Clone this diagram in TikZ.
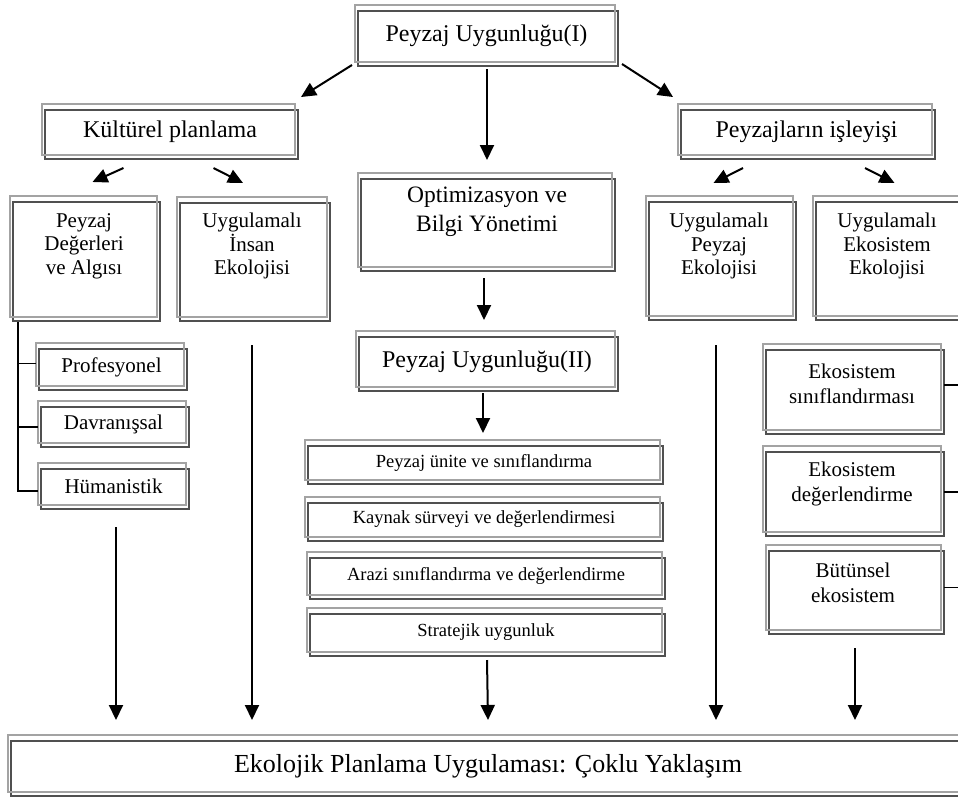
\documentclass[tikz,border=0pt]{standalone}
\usepackage{fontspec}
\setmainfont{Liberation Serif}
\usetikzlibrary{arrows.meta,calc}

\definecolor{liteframe}{HTML}{A3A3A3}
\definecolor{darkframe}{HTML}{505050}

% font sizes used in the chart
\newcommand\hdfont{\fontsize{24}{28}\selectfont}
\newcommand\optfont{\fontsize{23.5}{29}\selectfont}
\newcommand\midfont{\fontsize{21}{23.5}\selectfont}
\newcommand\rfont{\fontsize{21}{25}\selectfont}
\newcommand\smfont{\fontsize{18.5}{22}\selectfont}
\newcommand\btfont{\fontsize{26}{30}\selectfont}

\tikzset{
  litebox/.style={draw=liteframe, line width=1.8pt, rectangle, inner sep=0pt, outer sep=0pt},
  darkrim/.style={draw=darkframe, line width=2.4pt},
  boxtext/.style={align=center, inner sep=0pt, text=black},
  link/.style={line width=2pt, -{Triangle[length=15pt,width=14pt]}},
  branch/.style={line width=1.8pt},
}

% double-rimmed box: light frame with a darker frame offset below right,
% and a one-line caption centred in the pair of frames
% #1 caption options, #2 name, #3 x0, #4 y0, #5 x1, #6 y1, #7 caption
\newcommand{\twinbox}[7][]{%
  \draw[darkrim] (#3+3,#4+6) rectangle (#5+3,#6+4);
  \node[litebox, minimum width={#5-#3}, minimum height={#6-#4}] (#2)
    at ({(#3+#5)/2},{(#4+#6)/2}) {};
  \node[boxtext, #1] (#2-t) at ({(#3+#5)/2+1.5},{(#4+#6)/2+2.5}) {#7};
}

\begin{document}
\begin{tikzpicture}[x=1pt,y=-1pt]
\fill[white] (0,0) rectangle (958,796);
\useasboundingbox (0,0) rectangle (958,796);

% upper levels
\twinbox[font=\hdfont]{top}{355}{5}{615}{62}{Peyzaj Uygunluğu(I)}
\twinbox[font=\hdfont]{kult}{42}{104}{295}{155}{Kültürel planlama}
\twinbox[font=\hdfont]{proc}{678}{104}{932}{155}{Peyzajların işleyişi}

\twinbox{opt}{358}{173}{612}{267}{}
\node[boxtext, font=\optfont] (opt-l) at (487,212) {Optimizasyon ve\\Bilgi Yönetimi};

\twinbox{pda}{10}{196}{157}{317}{}
\node[boxtext, font=\midfont] (pda-l) at (84,246) {Peyzaj\\Değerleri\\ve Algısı};
\twinbox{uie}{177}{197}{327}{317}{}
\node[boxtext, font=\midfont] (uie-l) at (252,246) {Uygulamalı\\İnsan\\Ekolojisi};
\twinbox{upe}{646}{196}{793}{316}{}
\node[boxtext, font=\midfont] (upe-l) at (719,246) {Uygulamalı\\Peyzaj\\Ekolojisi};
\twinbox{uee}{813}{196}{960}{316}{}
\node[boxtext, font=\midfont] (uee-l) at (887,246) {Uygulamalı\\Ekosistem\\Ekolojisi};

\twinbox[font=\hdfont]{pu2}{356}{331}{615}{387}{Peyzaj Uygunluğu(II)}

% left list
\twinbox[font=\midfont]{prof}{36}{343}{184}{386}{Profesyonel}
\twinbox[font=\midfont]{davr}{38}{401}{186}{443}{Davranışsal}
\twinbox[font=\midfont]{hum}{38}{463}{186}{505}{Hümanistik}

% middle list
\twinbox[font=\smfont]{unit}{305}{440}{660}{480}{Peyzaj ünite ve sınıflandırma}
\twinbox[font=\smfont]{kayn}{305}{497}{660}{537}{Kaynak sürveyi ve değerlendirmesi}
\twinbox[font=\smfont]{araz}{307}{552}{662}{595}{Arazi sınıflandırma ve değerlendirme}
\twinbox[font=\smfont]{strat}{307}{608}{662}{652}{Stratejik uygunluk}

% right list
\twinbox{eks}{763}{344}{941}{430}{}
\node[boxtext, font=\rfont] (eks-l) at (852,384) {Ekosistem\\sınıflandırması};
\twinbox{ekd}{763}{446}{941}{532}{}
\node[boxtext, font=\rfont] (ekd-l) at (852,484) {Ekosistem\\değerlendirme};
\twinbox{bute}{766}{545}{941}{630}{}
\node[boxtext, font=\rfont] (bute-l) at (853,583) {Bütünsel\\ekosistem};

% bottom bar
\twinbox[font=\btfont]{base}{8}{735}{965}{792}{Ekolojik Planlama Uygulaması: Çoklu Yaklaşım}

% arrows from the top box
\draw[link] ([shift={(-3,3)}]top.south west) -- ([shift={(6,-7)}]kult.north east);
\draw[link] ([shift={(7,2)}]top.south east) -- ([shift={(-5,-7)}]proc.north west);
\draw[link] ([shift={(2,7)}]top.south) -- ([shift={(2,-13)}]opt.north);

% second level splits
\draw[link] ([shift={(-45,13)}]kult.south) -- ([shift={(9,-14)}]pda.north);
\draw[link] ([shift={(45,13)}]kult.south) -- ([shift={(-9,-14)}]uie.north);
\draw[link] ([shift={(-62,13)}]proc.south) -- ([shift={(-6,-13)}]upe.north);
\draw[link] ([shift={(60,13)}]proc.south) -- ([shift={(8,-13)}]uee.north);

% middle column
\draw[link] ([shift={(-1,11)}]opt.south) -- ([shift={(-1.5,-11)}]pu2.north);
\draw[link] ([shift={(-2.5,6)}]pu2.south) -- ([shift={(0.5,-7)}]unit.north);

% arrows into the bottom bar
\draw[link] ([shift={(4,22)}]hum.south) -- ([shift={(108,-15)}]base.north west);
\draw[link] ([shift={(0,28)}]uie.south) -- ([shift={(244,-15)}]base.north west);
\draw[link] ([shift={(2.5,8)}]strat.south) -- ([shift={(480,-15)}]base.north west);
\draw[link] ([shift={(-3.5,29)}]upe.south) -- ([shift={(708,-15)}]base.north west);
\draw[link] ([shift={(1.5,18)}]bute.south) -- ([shift={(847,-15)}]base.north west);

% left bracket
\coordinate (lt) at ([shift={(8,5)}]pda.south west);
\coordinate (b1) at ([shift={(0,-1)}]prof.west);
\coordinate (b2) at ([shift={(0,5)}]davr.west);
\coordinate (b3) at ([shift={(0,7)}]hum.west);
\draw[branch] (lt) |- (b3);
\draw[branch] (lt |- b1) -- (b1);
\draw[branch] (lt |- b2) -- (b2);

% right bracket ticks
\coordinate (rt) at (960,0);
\coordinate (r1) at ([shift={(3,-2)}]eks.east);
\coordinate (r2) at ([shift={(3,3)}]ekd.east);
\coordinate (r3) at ([shift={(3,0)}]bute.east);
\draw[branch] (r1) -- (r1 -| rt);
\draw[branch] (r2) -- (r2 -| rt);
\draw[branch] (r3) -- (r3 -| rt);
\end{tikzpicture}
\end{document}
